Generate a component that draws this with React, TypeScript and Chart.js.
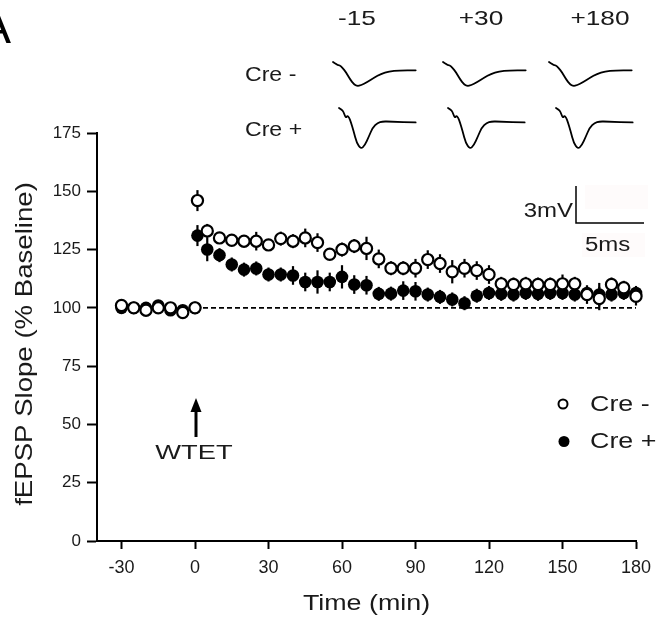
import React, { useEffect, useRef } from "react";
import { Chart, registerables } from "chart.js";

Chart.register(...registerables);

// ---------- data ----------
const times = [
  -30, -25, -20, -15, -10, -5, 0,
  1, 5, 10, 15, 20, 25, 30, 35, 40, 45, 50, 55, 60, 65, 70, 75, 80, 85, 90,
  95, 100, 105, 110, 115, 120, 125, 130, 135, 140, 145, 150, 155, 160, 165,
  170, 175, 180,
];

const creMinus = [
  101, 100, 99, 100, 100, 98, 100,
  146, 133, 130, 129, 128.6, 128.6, 127, 129.7, 128.6, 130, 128, 123, 125,
  126.5, 125.5, 121, 117, 117, 117, 120.7, 119, 115.5, 117, 116, 114.3, 110.3,
  110, 110.3, 110, 110, 110.3, 110.3, 105.7, 104, 110, 108.6, 105,
];
const creMinusErr = [
  1.5, 1.5, 1.5, 1.5, 1.5, 1.5, 1.5,
  4.5, 3, 2, 2, 2, 4, 2, 3, 3, 4, 4, 2, 3, 3, 5, 4, 3, 3, 4, 4, 4, 5, 4, 4,
  4, 3, 3, 3, 3, 3, 4, 3, 4, 5, 3, 3, 4,
];

const crePlus = [
  100, 100, 100, 101, 99, 99, 100,
  131, 125, 122.6, 118.6, 116.4, 116.9, 114.3, 114.3, 113.9, 111.1, 111.1,
  111.1, 113.3, 110, 109.7, 106, 106.1, 107.4, 107.1, 105.7, 104.7, 103.6,
  102, 105.2, 106.4, 106, 105.7, 106.4, 106, 106.4, 106.4, 105.7, 106.4,
  105.7, 105.7, 106.4, 106.4,
];
const crePlusErr = [
  1.5, 1.5, 1.5, 1.5, 1.5, 1.5, 1.5,
  4.5, 5, 3, 3, 3, 3, 3, 3, 4, 4, 5, 4, 5, 4, 4, 3, 3, 4, 4, 3, 3, 3, 3, 3,
  3, 3, 3, 3, 3, 3, 3, 3, 3, 5, 3, 3, 3,
];

const baselineLine = [
  { x: 0, y: 100 },
  { x: 180, y: 100 },
];

const xTicks = [-30, 0, 30, 60, 90, 120, 150, 180];
const yTicks = [0, 25, 50, 75, 100, 125, 150, 175];

const traceLabels = ["-15", "+30", "+180"];
const rowLabels = ["Cre -", "Cre +"];
const legendLabels = ["Cre -", "Cre +"];

// example fEPSP traces (ms, mV)
const traceCreMinus: [number, number][] = [
  [0, 0], [0.3, -0.22], [0.5, -0.25], [0.69, -0.43], [0.97, -0.79],
  [1.27, -1.33], [1.57, -1.72], [1.81, -1.85], [2.09, -1.79], [2.54, -1.56],
  [3.06, -1.22], [3.58, -0.91], [4.18, -0.72], [4.93, -0.64], [6.17, -0.64],
];
const traceCrePlus: [number, number][] = [
  [0, 0], [0.2, -0.13], [0.33, -0.26], [0.5, -0.77], [0.63, -0.59],
  [0.76, -0.75], [0.87, -1.03], [1.1, -1.82], [1.32, -2.67], [1.62, -3.15],
  [1.92, -2.9], [2.22, -2.21], [2.51, -1.52], [2.89, -1.13], [3.24, -1.03],
  [3.86, -1.05], [5.72, -1.11],
];

const FONT = "'Liberation Sans', Arial, Helvetica, sans-serif";

function drawText(
  ctx: CanvasRenderingContext2D,
  text: string,
  x: number,
  y: number,
  size: number,
  align: CanvasTextAlign,
  stretch = 1,
  rotate = 0,
  spacing = 0
) {
  ctx.save();
  ctx.translate(x, y);
  if (rotate) ctx.rotate(rotate);
  ctx.scale(stretch, 1);
  ctx.font = `${size}px ${FONT}`;
  (ctx as any).letterSpacing = `${spacing}px`;
  ctx.fillStyle = "#1a1a1a";
  ctx.textAlign = align;
  ctx.textBaseline = "middle";
  ctx.fillText(text, 0, 0);
  ctx.restore();
}

function drawTrace(
  ctx: CanvasRenderingContext2D,
  pts: [number, number][],
  x0: number,
  y0: number
) {
  const pxPerMs = 13.4;
  const pxPerMv = 13;
  const p = pts.map(([t, v]) => [x0 + t * pxPerMs, y0 - v * pxPerMv]);
  ctx.save();
  ctx.strokeStyle = "#000";
  ctx.lineWidth = 1.8;
  ctx.lineJoin = "round";
  ctx.lineCap = "round";
  ctx.beginPath();
  ctx.moveTo(p[0][0], p[0][1]);
  for (let i = 1; i < p.length - 1; i++) {
    const mx = (p[i][0] + p[i + 1][0]) / 2;
    const my = (p[i][1] + p[i + 1][1]) / 2;
    ctx.quadraticCurveTo(p[i][0], p[i][1], mx, my);
  }
  ctx.lineTo(p[p.length - 1][0], p[p.length - 1][1]);
  ctx.stroke();
  ctx.restore();
}

const errorBarPlugin = {
  id: "errorBars",
  beforeDatasetDraw(chart: any, args: any) {
    const ds = chart.data.datasets[args.index];
    const errs: number[] | undefined = ds.errors;
    if (!errs) return;
    const ctx = chart.ctx;
    const ys = chart.scales.y;
    ctx.save();
    ctx.strokeStyle = "#000";
    ctx.lineWidth = 2.2;
    args.meta.data.forEach((pt: any, i: number) => {
      const v = ds.data[i].y;
      const e = errs[i];
      ctx.beginPath();
      ctx.moveTo(pt.x, ys.getPixelForValue(v - e));
      ctx.lineTo(pt.x, ys.getPixelForValue(v + e));
      ctx.stroke();
    });
    ctx.restore();
  },
};

const decorPlugin = {
  id: "decor",
  afterDraw(chart: any) {
    const ctx: CanvasRenderingContext2D = chart.ctx;
    const xs = chart.scales.x;
    const area = chart.chartArea;

    // panel letter
    ctx.save();
    ctx.font = `48px ${FONT}`;
    ctx.fillStyle = "#000";
    ctx.textAlign = "right";
    ctx.textBaseline = "alphabetic";
    ctx.fillText("A", 11, 43);
    ctx.restore();

    // trace column labels
    const colLabelX = [357, 481, 600];
    traceLabels.forEach((t, i) => drawText(ctx, t, colLabelX[i], 19, 21, "center", 1.25));
    // row labels
    drawText(ctx, rowLabels[0], 245, 75.5, 21, "left", 1.1);
    drawText(ctx, rowLabels[1], 245, 130.5, 21, "left", 1.1);

    // traces
    const minusX = [333, 443, 549];
    const plusX = [339, 448, 556];
    minusX.forEach((x) => drawTrace(ctx, traceCreMinus, x, 62));
    plusX.forEach((x) => drawTrace(ctx, traceCrePlus, x, 108));

    // scale bar
    ctx.save();
    ctx.fillStyle = "#fefbfb";
    ctx.fillRect(585, 185, 63, 24);
    ctx.fillRect(582, 233, 63, 24);
    ctx.strokeStyle = "#000";
    ctx.lineWidth = 1.5;
    ctx.beginPath();
    ctx.moveTo(576, 186);
    ctx.lineTo(576, 223);
    ctx.lineTo(644, 223);
    ctx.stroke();
    ctx.restore();
    drawText(ctx, "3mV", 573, 211, 20, "right", 1.2);
    drawText(ctx, "5ms", 585, 245, 20, "left", 1.2);

    // legend
    ctx.save();
    ctx.beginPath();
    ctx.arc(563, 404, 4.5, 0, Math.PI * 2);
    ctx.fillStyle = "#fff";
    ctx.fill();
    ctx.lineWidth = 2;
    ctx.strokeStyle = "#000";
    ctx.stroke();
    ctx.beginPath();
    ctx.arc(564, 441.5, 5.5, 0, Math.PI * 2);
    ctx.fillStyle = "#000";
    ctx.fill();
    ctx.restore();
    drawText(ctx, legendLabels[0], 590, 405, 22, "left", 1.22);
    drawText(ctx, legendLabels[1], 590, 442, 22, "left", 1.22);

    // WTET arrow
    const ax = xs.getPixelForValue(0) + 1;
    ctx.save();
    ctx.strokeStyle = "#000";
    ctx.fillStyle = "#000";
    ctx.lineWidth = 3;
    ctx.beginPath();
    ctx.moveTo(ax, 437);
    ctx.lineTo(ax, 408);
    ctx.stroke();
    ctx.beginPath();
    ctx.moveTo(ax, 398);
    ctx.lineTo(ax - 5.5, 412);
    ctx.lineTo(ax + 5.5, 412);
    ctx.closePath();
    ctx.fill();
    ctx.restore();
    drawText(ctx, "WTET", ax - 2, 453, 21, "center", 1.3);

    // axis titles
    drawText(ctx, "Time (min)", (area.left + area.right) / 2, 604, 22, "center", 1.22);
    drawText(ctx, "fEPSP Slope (% Baseline)", 25, 344, 24, "center", 1.15, -Math.PI / 2);
  },
};

export default function App() {
  const ref = useRef<HTMLCanvasElement | null>(null);

  useEffect(() => {
    if (!ref.current) return;
    const chart = new Chart(ref.current, {
      type: "scatter",
      data: {
        datasets: [
          {
            label: "Cre -",
            data: times.map((t, i) => ({ x: t, y: creMinus[i] })),
            errors: creMinusErr,
            pointRadius: 5.6,
            pointBorderWidth: 2.2,
            pointBackgroundColor: "#fff",
            pointBorderColor: "#000",
            showLine: false,
            clip: false,
            order: 0,
          } as any,
          {
            label: "Cre +",
            data: times.map((t, i) => ({ x: t, y: crePlus[i] })),
            errors: crePlusErr,
            pointRadius: 6.3,
            pointBorderWidth: 0,
            pointBackgroundColor: "#000",
            pointBorderColor: "#000",
            showLine: false,
            clip: false,
            order: 1,
          } as any,
          {
            label: "baseline",
            type: "line",
            data: baselineLine,
            borderColor: "#000",
            borderWidth: 1.6,
            borderDash: [5, 3],
            pointRadius: 0,
            order: 2,
          } as any,
        ],
      },
      options: {
        responsive: false,
        animation: false,
        devicePixelRatio: 1,
        layout: { padding: { top: 133, right: 29, left: 0, bottom: 0 } },
        plugins: {
          legend: { display: false },
          tooltip: { enabled: false },
        },
        scales: {
          x: {
            type: "linear",
            min: -40,
            max: 180,
            afterBuildTicks: (s: any) => {
              s.ticks = xTicks.map((v) => ({ value: v }));
            },
            afterFit: (s: any) => {
              s.height = 86;
              s.paddingLeft = 0;
              s.paddingRight = 0;
            },
            grid: {
              drawOnChartArea: false,
              drawTicks: true,
              tickLength: 8,
              tickWidth: 2,
              tickColor: "#000",
              color: "#000",
            },
            border: { display: true, color: "#000", width: 2 },
            ticks: {
              color: "#1a1a1a",
              font: { family: FONT, size: 18 },
              padding: 8,
              maxRotation: 0,
              autoSkip: false,
            },
          },
          y: {
            type: "linear",
            min: 0,
            max: 175,
            afterBuildTicks: (s: any) => {
              s.ticks = yTicks.map((v) => ({ value: v }));
            },
            afterFit: (s: any) => {
              s.width = 97;
              s.paddingTop = 0;
              s.paddingBottom = 0;
            },
            grid: {
              drawOnChartArea: false,
              drawTicks: true,
              tickLength: 10,
              tickWidth: 2,
              tickColor: "#000",
              color: "#000",
            },
            border: { display: true, color: "#000", width: 2 },
            ticks: {
              color: "#1a1a1a",
              font: { family: FONT, size: 17 },
              padding: 6,
              autoSkip: false,
            },
          },
        },
      },
      plugins: [errorBarPlugin, decorPlugin],
    } as any);
    return () => chart.destroy();
  }, []);

  return (
    <div style={{ position: "fixed", left: 0, top: 0, width: 665, height: 627, background: "#fff" }}>
      <canvas ref={ref} width={665} height={627} style={{ display: "block" }} />
    </div>
  );
}
